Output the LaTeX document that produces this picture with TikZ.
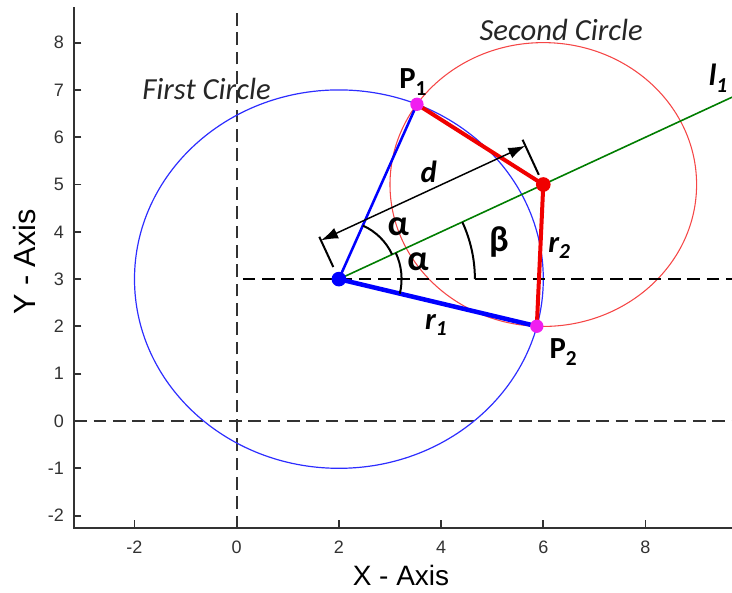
\documentclass[tikz,border=0pt]{standalone}
\usepackage{fontspec}
\setmainfont{Liberation Sans}
\newfontfamily\calfont{Carlito}
\usepackage{tikz}
\usetikzlibrary{arrows.meta,calc}
\usepackage{xcolor}
\definecolor{plotgray}{RGB}{50,50,50}
\definecolor{circblue}{RGB}{45,45,255}
\definecolor{circred}{RGB}{245,70,70}
\definecolor{linered}{RGB}{240,0,0}
\definecolor{linegreen}{RGB}{0,125,0}
\definecolor{dotmag}{RGB}{240,30,240}
\newcommand{\lowidx}[1]{\raisebox{-0.22em}{\fontsize{16}{18}\selectfont #1}}
\tikzset{
  axisline/.style={plotgray,line width=1.4pt},
  zeroline/.style={plotgray,line width=1.3pt,dash pattern=on 9.5pt off 5pt},
  ticklab/.style={plotgray,inner sep=0pt,font=\fontsize{13.5}{15}\selectfont},
  circlab/.style={inner sep=0pt,text=black!85,font=\calfont\itshape\fontsize{23}{26}\selectfont},
  marklab/.style={inner sep=0pt,font=\calfont\bfseries\fontsize{23}{26}\selectfont},
  varlab/.style={inner sep=0pt,font=\calfont\bfseries\itshape\fontsize{23}{26}\selectfont},
  greeklab/.style={inner sep=0pt,font=\calfont\bfseries\fontsize{27}{30}\selectfont},
  anglearc/.style={black,line width=1.5pt}
}
\begin{document}
\begin{tikzpicture}[x=38.325pt,y=35.475pt,>={Latex[length=4.5mm,width=3mm]},line cap=butt]
\useasboundingbox (-4.632,-3.615) rectangle (9.693,8.901);
% axes
\draw[axisline] (-3.18,8.75) -- (-3.18,-2.27) -- (9.693,-2.27);
\draw[zeroline] (0,-2.27) -- (0,8.75);
\draw[zeroline] (-3.18,0) -- (9.693,0);
\draw[axisline] (-2,-2.1) -- (-2,-2.27) node[below=9pt,ticklab] (xm2) {-2};
\draw[axisline] (0,-2.1) -- (0,-2.27) node[below=9pt,ticklab] (x0) {0};
\draw[axisline] (2,-2.1) -- (2,-2.27) node[below=9pt,ticklab] (x2) {2};
\draw[axisline] (4,-2.1) -- (4,-2.27) node[below=9pt,ticklab] (x4) {4};
\draw[axisline] (6,-2.1) -- (6,-2.27) node[below=9pt,ticklab] (x6) {6};
\draw[axisline] (8,-2.1) -- (8,-2.27) node[below=9pt,ticklab] (x8) {8};
\draw[axisline] (-3.04,-2) -- (-3.18,-2) node[left=7pt,ticklab] (ym2) {-2};
\draw[axisline] (-3.04,-1) -- (-3.18,-1) node[left=7pt,ticklab] (ym1) {-1};
\draw[axisline] (-3.04,0) -- (-3.18,0) node[left=7pt,ticklab] (y0) {0};
\draw[axisline] (-3.04,1) -- (-3.18,1) node[left=7pt,ticklab] (y1) {1};
\draw[axisline] (-3.04,2) -- (-3.18,2) node[left=7pt,ticklab] (y2) {2};
\draw[axisline] (-3.04,3) -- (-3.18,3) node[left=7pt,ticklab] (y3) {3};
\draw[axisline] (-3.04,4) -- (-3.18,4) node[left=7pt,ticklab] (y4) {4};
\draw[axisline] (-3.04,5) -- (-3.18,5) node[left=7pt,ticklab] (y5) {5};
\draw[axisline] (-3.04,6) -- (-3.18,6) node[left=7pt,ticklab] (y6) {6};
\draw[axisline] (-3.04,7) -- (-3.18,7) node[left=7pt,ticklab] (y7) {7};
\draw[axisline] (-3.04,8) -- (-3.18,8) node[left=7pt,ticklab] (y8) {8};
\node[rotate=90,font=\fontsize{23}{26}\selectfont] (ytitle) at (-4.143,3.36) {Y - Axis};
\node[font=\fontsize{21}{24}\selectfont] (xtitle) at (3.215,-3.256) {X - Axis};
% points
\coordinate (C1) at (2,3);
\coordinate (C2) at (6,5);
\coordinate (P1) at (3.527,6.696);
\coordinate (P2) at (5.873,2.004);
\coordinate (L1end) at (9.693,6.846);
\coordinate (H0) at (0.12,3);
\coordinate (H1) at (9.693,3);
% circles
\draw[circblue,line width=0.9pt] (C1) ellipse [x radius=4,y radius=4];
\draw[circred,line width=0.8pt] (C2) ellipse [x radius=3,y radius=3];
% lines
\draw[linegreen,line width=1.2pt] (C1) -- (L1end);
\draw[black,line width=1.9pt,dash pattern=on 9.5pt off 5pt] (H0) -- (H1);
\draw[blue,line width=1.9pt] (C1) -- (P1);
\draw[blue,line width=3.4pt] (C1) -- (P2);
\draw[linered,line width=3pt,line join=round] (P1) -- (C2) -- (P2);
\fill[blue] (C1) circle (5.5pt);
\fill[linered] (C2) circle (5.5pt);
\fill[dotmag] (P1) circle (5pt);
\fill[dotmag] (P2) circle (5pt);
% angles
\draw[anglearc] ($(C1)+(65.9:44pt)$) arc[start angle=65.9,end angle=24.8,radius=44pt];
\draw[anglearc] ($(C1)+(24.8:47pt)$) arc[start angle=24.8,end angle=-13.4,radius=47pt];
\draw[anglearc] ($(C1)+(0:102pt)$) arc[start angle=0,end angle=24.8,radius=102pt];
% distance d
\coordinate (dA) at ($(C1)!32pt!90:(C2)$);
\coordinate (dB) at ($(C2)!32pt!-90:(C1)$);
\draw[black,line width=1.5pt] ($(C1)!10pt!90:(C2)$) -- ($(C1)!35pt!90:(C2)$);
\draw[black,line width=1.5pt] ($(C2)!8pt!-90:(C1)$) -- ($(C2)!37pt!-90:(C1)$);
\draw[<->,black,line width=1.1pt] (dA) -- (dB);
% labels
\node[circlab] (first) at (-0.59,7.02) {First Circle};
\node[circlab] (second) at (6.35,8.27) {Second Circle};
\node[marklab] (P1lab) at (3.45,7.17) {P\lowidx{1}};
\node[marklab] (P2lab) at (6.39,1.46) {P\lowidx{2}};
\node[varlab] (dlab) at (3.76,5.26) {d};
\node[varlab] (r1lab) at (3.90,2.03) {r\lowidx{1}};
\node[varlab] (r2lab) at (6.31,3.66) {r\lowidx{2}};
\node[varlab] (l1lab) at (9.42,7.25) {l\lowidx{1}};
\node[greeklab] (alpha1) at (3.16,4.10) {α};
\node[greeklab] (alpha2) at (3.55,3.36) {α};
\node[greeklab] (beta) at (5.13,3.78) {β};
\end{tikzpicture}
\end{document}
